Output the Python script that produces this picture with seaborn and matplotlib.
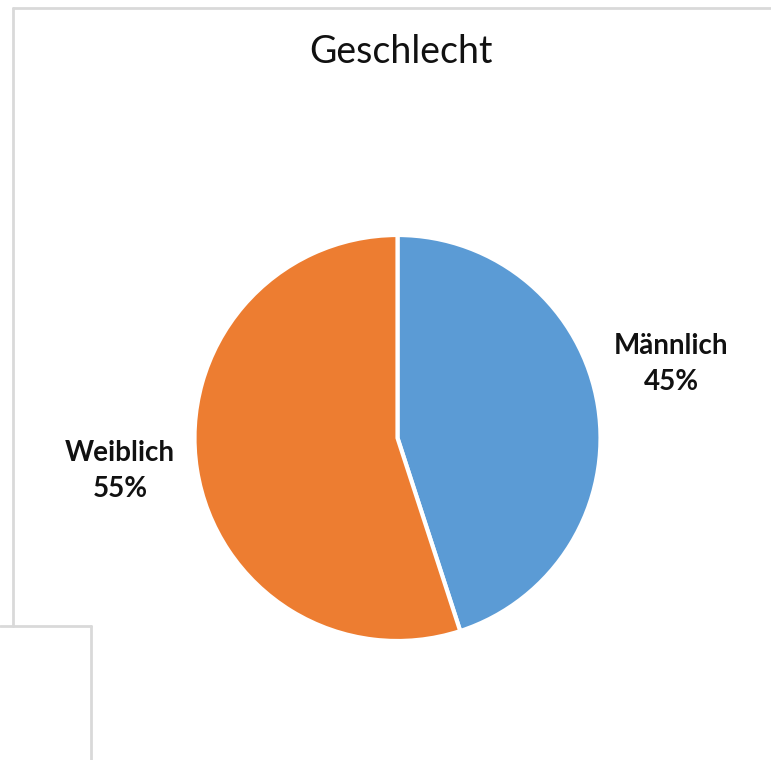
import matplotlib
matplotlib.use("Agg")
import matplotlib.pyplot as plt
from matplotlib.lines import Line2D
import seaborn as sns

# Gender split of respondents
categories = ["Männlich", "Weiblich"]
shares = [45, 55]
colors = ["#5B9BD5", "#ED7D31"]
title = "Geschlecht"

sns.set_theme(style="white")
plt.rcParams["font.family"] = ["Lato", "DejaVu Sans"]

W, H = 771, 760
fig = plt.figure(figsize=(W / 100, H / 100), dpi=100)
fig.patch.set_facecolor("white")
ax = fig.add_axes([0, 0, 1, 1])

# Pixel-style coordinates with y pointing down: start at the top, run clockwise
cx, cy, r = 397.5, 438, 203
wedges, _ = ax.pie(
    shares,
    colors=colors,
    startangle=-90,
    counterclock=True,
    center=(cx, cy),
    radius=r,
    wedgeprops=dict(edgecolor="white", linewidth=3),
)
ax.set_xlim(0, W)
ax.set_ylim(H, 0)
ax.set_aspect("equal")
ax.axis("off")

# Category labels with percentages outside the wedges
label_pos = {"Männlich": (671, 364), "Weiblich": (120, 471)}
for cat, val in zip(categories, shares):
    x, y = label_pos[cat]
    ax.text(x, y, f"{cat}\n{val}%", ha="center", va="center",
            fontsize=20, fontweight="bold", color="#111111", linespacing=1.45)

ax.text(401, 52, title, ha="center", va="center", fontsize=27, color="#111111")

# Chart frame edges
frame = "#d9d9d9"
def px_line(xs, ys):
    fig.add_artist(Line2D([x / W for x in xs], [1 - y / H for y in ys],
                          color=frame, linewidth=2, transform=fig.transFigure))

px_line([13, W], [7.5, 7.5])
px_line([13, 13], [7.5, 626])
px_line([0, 91], [626, 626])
px_line([91, 91], [626, H])

fig.savefig("out.png", dpi=100, facecolor="white")
